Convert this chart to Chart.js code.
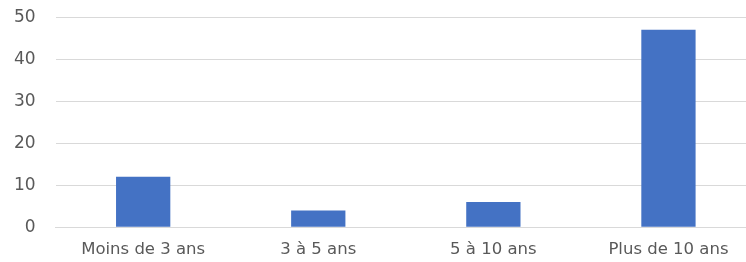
<!DOCTYPE html>
<html>
<head>
<meta charset="utf-8">
<script src="https://cdn.jsdelivr.net/npm/chart.js@4"></script>
<style>
    html, body { margin: 0; padding: 0; background: #fff; overflow: hidden; }
    #wrap { width: 756px; height: 275px; margin-top: -13px; }
</style>
</head>
<body>
<div id="wrap"><canvas id="chart"></canvas></div>
<script>
const categories = ["Moins de 3 ans", "3 à 5 ans", "5 à 10 ans", "Plus de 10 ans"];
const values = [12, 4, 6, 47];
const yTicks = [0, 10, 20, 30, 40, 50];

const fontFamily = "'DejaVu Sans', 'Liberation Sans', sans-serif";

new Chart(document.getElementById("chart"), {
    type: "bar",
    data: {
        labels: categories,
        datasets: [{
            data: values,
            backgroundColor: "#4472c4",
            barPercentage: 0.31,
            categoryPercentage: 1
        }]
    },
    options: {
        responsive: true,
        maintainAspectRatio: false,
        animation: false,
        layout: { padding: { top: 0, left: -6, right: 0, bottom: -3 } },
        plugins: {
            legend: { display: false },
            tooltip: { enabled: false }
        },
        scales: {
            x: {
                grid: { display: false },
                border: { color: "#d9d9d9" },
                ticks: { color: "#595959", font: { family: fontFamily, size: 16.5 }, padding: 5 }
            },
            y: {
                min: 0,
                max: 50,
                afterBuildTicks: axis => {
                    axis.ticks = yTicks.map(v => ({ value: v }));
                },
                grid: { color: "#d9d9d9", drawTicks: false },
                border: { display: false },
                ticks: { color: "#595959", font: { family: fontFamily, size: 17 }, padding: 20 }
            }
        }
    }
});
</script>
</body>
</html>
